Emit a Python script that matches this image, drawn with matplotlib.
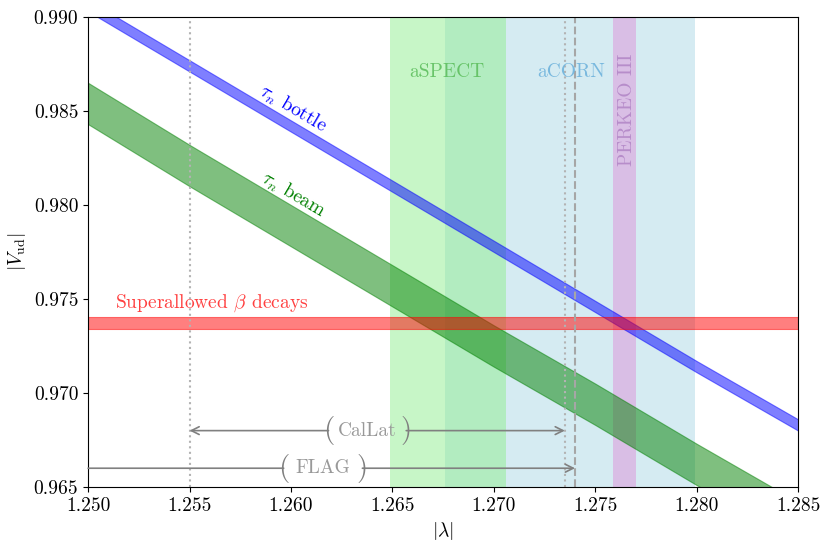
import matplotlib
matplotlib.use("Agg")
import matplotlib.pyplot as plt
import numpy as np

plt.rcParams["font.family"] = "serif"
plt.rcParams["font.serif"] = ["cmr10", "DejaVu Serif"]
plt.rcParams["mathtext.fontset"] = "cm"
plt.rcParams["axes.formatter.use_mathtext"] = True
plt.rcParams["font.size"] = 14

# =========================
# Data
# =========================
lam = [1.250, 1.255, 1.260, 1.265, 1.270, 1.275, 1.280, 1.285]

bottle_hi = [0.9909, 0.9877, 0.9845, 0.9813, 0.9781, 0.9749, 0.9717, 0.9686]
bottle_lo = [0.9903, 0.9871, 0.9839, 0.9807, 0.9775, 0.9743, 0.9711, 0.9680]

beam_hi = [0.9865, 0.9832, 0.9800, 0.9768, 0.9736, 0.9705, 0.9673, 0.9642]
beam_lo = [0.9843, 0.9810, 0.9778, 0.9746, 0.9714, 0.9683, 0.9651, 0.9620]

superallowed = (0.97342, 0.97404)

aspect = (1.2649, 1.2706)
acorn = (1.2676, 1.2799)
perkeo = (1.27588, 1.27700)

callat = (1.2550, 1.2735)
flag = (1.2500, 1.2740)

# =========================
# Plot
# =========================
fig = plt.figure(figsize=(8.31, 5.5), dpi=100)
ax = fig.add_axes([0.106, 0.1145, 0.8545, 0.8546])

ax.axvspan(*acorn, color="lightblue", alpha=0.5, lw=0)
ax.axvspan(*aspect, color="lightgreen", alpha=0.5, lw=0)
ax.axvspan(*perkeo, color="plum", alpha=0.6, lw=0)

ax.axvline(callat[0], color="0.7", ls=":", lw=1.5)
ax.axvline(callat[1], color="0.7", ls=":", lw=1.5)
ax.axvline(flag[1], color="0.65", ls="--", lw=1.5)

ax.fill_between(lam, bottle_lo, bottle_hi, color="blue", alpha=0.5, lw=0.8)
ax.fill_between(lam, beam_lo, beam_hi, color="green", alpha=0.5, lw=0.8)
ax.axhspan(*superallowed, color="red", alpha=0.5, lw=0.8)

# labels on the bands
ax.text(1.2601, 0.9851, r"$\tau_n$ bottle", color="blue", rotation=-30.5,
        ha="center", va="center")
ax.text(1.2601, 0.98055, r"$\tau_n$ beam", color="green", rotation=-30.5,
        ha="center", va="center")
ax.text(1.2561, 0.97478, r"Superallowed $\beta$ decays", color="red",
        alpha=0.75, ha="center", va="center")

ax.text(1.2677, 0.98705, "aSPECT", color="#5fbf5f", alpha=0.9,
        ha="center", va="center")
ax.text(1.2738, 0.98705, "aCORN", color="#6fb3dc", alpha=0.9,
        ha="center", va="center")
ax.text(1.27655, 0.98505, "PERKEO III", color="#a06cb8", alpha=0.6,
        rotation=90, ha="center", va="center")

# lattice arrows, line broken by the bracketed label
def lattice_arrow(lo, hi, y, gap, name, left_head):
    mid = 0.5 * (gap[0] + gap[1])
    ax.annotate("", xy=(lo, y), xytext=(gap[0], y),
                arrowprops=dict(arrowstyle="->" if left_head else "-",
                                color="0.5", lw=1.2, shrinkA=0, shrinkB=0))
    ax.annotate("", xy=(hi, y), xytext=(gap[1], y),
                arrowprops=dict(arrowstyle="->", color="0.5", lw=1.2,
                                shrinkA=0, shrinkB=0))
    ax.text(mid, y, name, color="0.6", ha="center", va="center")
    ax.text(gap[0], y, "(", color="0.5", fontsize=21, ha="center",
            va="center")
    ax.text(gap[1], y, ")", color="0.5", fontsize=21, ha="center",
            va="center")

lattice_arrow(callat[0], callat[1], 0.9680, (1.26185, 1.26568), "CalLat", True)
lattice_arrow(flag[0], flag[1], 0.9660, (1.25964, 1.26352), "FLAG", False)

ax.set_xlim(1.250, 1.285)
ax.set_ylim(0.965, 0.990)
ax.set_xticks(np.arange(1.250, 1.2851, 0.005))
ax.set_yticks(np.arange(0.965, 0.9901, 0.005))
ax.xaxis.set_major_formatter(matplotlib.ticker.FormatStrFormatter("%.3f"))
ax.yaxis.set_major_formatter(matplotlib.ticker.FormatStrFormatter("%.3f"))

ax.set_xlabel(r"$|\lambda|$")
ax.set_ylabel(r"$|V_{\rm ud}|$")

fig.savefig("out.png", dpi=100)
